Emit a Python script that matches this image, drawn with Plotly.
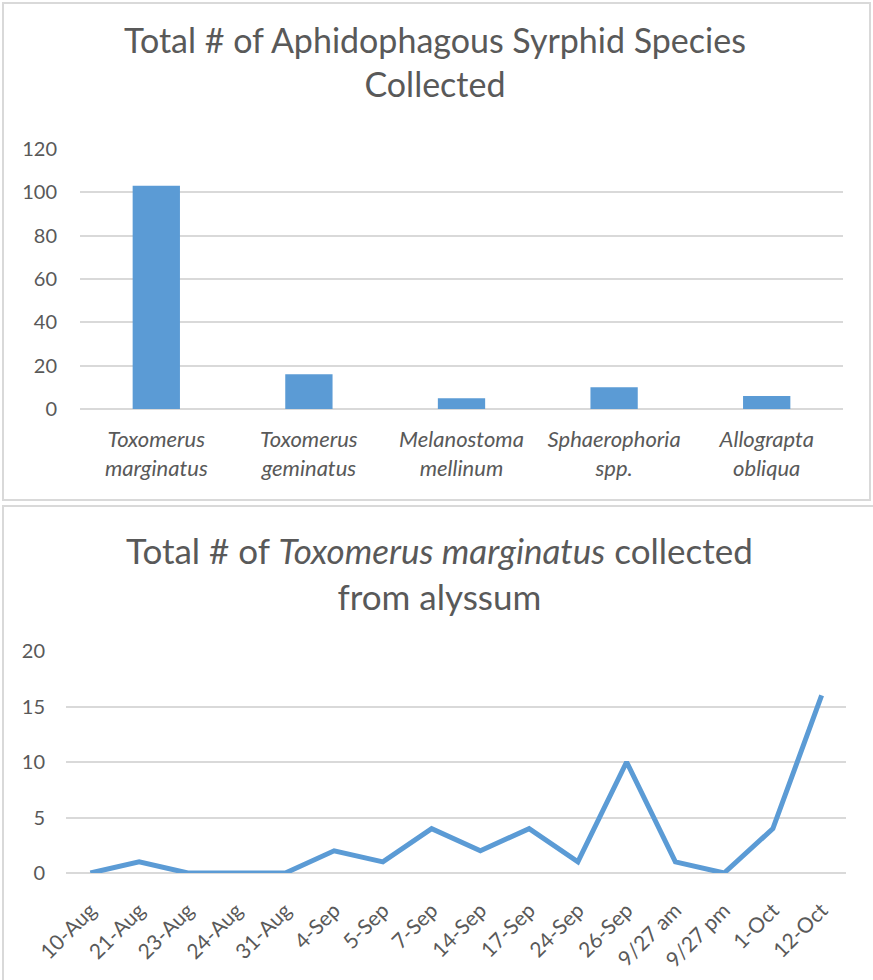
import plotly.graph_objects as go

W, H = 873, 980

# ---- data ----
species = ["Toxomerus<br>marginatus", "Toxomerus<br>geminatus", "Melanostoma<br>mellinum",
           "Sphaerophoria<br>spp.", "Allograpta<br>obliqua"]
species_counts = [103, 16, 5, 10, 6]

dates = ["10-Aug", "21-Aug", "23-Aug", "24-Aug", "31-Aug", "4-Sep", "5-Sep", "7-Sep",
         "14-Sep", "17-Sep", "24-Sep", "26-Sep", "9/27 am", "9/27 pm", "1-Oct", "12-Oct"]
tm_counts = [0, 1, 0, 0, 0, 2, 1, 4, 2, 4, 1, 10, 1, 0, 4, 16]

bar_ticks = [0, 20, 40, 60, 80, 100, 120]
line_ticks = [0, 5, 10, 15, 20]

BLUE = "#5b9bd5"
GRID = "#d9d9d9"
TXT = "#595959"
FONT = "Lato, 'Open Sans', sans-serif"

def px_x(x):
    return x / W

def px_y(y):
    return 1 - y / H

fig = go.Figure()
fig.add_trace(go.Bar(x=list(range(len(species))), y=species_counts, marker_color=BLUE,
                     marker_line_width=0, xaxis="x", yaxis="y", showlegend=False))
fig.add_trace(go.Scatter(x=list(range(len(dates))), y=tm_counts, mode="lines",
                         line=dict(color=BLUE, width=5), xaxis="x2", yaxis="y2",
                         showlegend=False))

fig.update_layout(
    template="none",
    width=W, height=H, margin=dict(l=0, r=0, t=0, b=0, pad=0),
    paper_bgcolor="white", plot_bgcolor="white",
    font=dict(family=FONT, color=TXT, size=20),
    bargap=0.69,
    xaxis=dict(domain=[px_x(80), px_x(843)], range=[-0.5, 4.5], tickmode="array",
               tickvals=list(range(len(species))), ticktext=[f"<i>{s}</i>" for s in species],
               showgrid=False, zeroline=False, showline=False, ticks="",
               tickangle=0, tickfont=dict(size=22, color=TXT), anchor="y",
               ticklabelstandoff=15, automargin=False),
    yaxis=dict(domain=[px_y(409), px_y(149)], range=[0, 120], tickvals=bar_ticks,
               showgrid=True, gridcolor=GRID, gridwidth=1.5, zeroline=True,
               zerolinecolor=GRID, zerolinewidth=1.5, showline=False, ticks="",
               tickfont=dict(size=20, color=TXT), anchor="x", ticklabelstandoff=22,
               automargin=False),
    xaxis2=dict(domain=[px_x(66), px_x(846)], range=[-0.5, 15.5], tickmode="array",
                tickvals=list(range(len(dates))), ticktext=dates,
                showgrid=False, zeroline=False, showline=False, ticks="",
                tickangle=-45, tickfont=dict(size=21, color=TXT), anchor="y2",
                ticklabelstandoff=20, automargin=False),
    yaxis2=dict(domain=[px_y(873), px_y(651)], range=[0, 20], tickvals=line_ticks,
                showgrid=True, gridcolor=GRID, gridwidth=1.5, zeroline=True,
                zerolinecolor=GRID, zerolinewidth=1.5, showline=False, ticks="",
                tickfont=dict(size=20, color=TXT), anchor="x2", ticklabelstandoff=20,
                automargin=False),
)

# panel borders
fig.add_shape(type="rect", xref="paper", yref="paper",
              x0=px_x(3), x1=px_x(870), y0=px_y(500), y1=px_y(3),
              line=dict(color=GRID, width=2), layer="below")
fig.add_shape(type="rect", xref="paper", yref="paper",
              x0=px_x(3), x1=px_x(900), y0=px_y(1010), y1=px_y(506),
              line=dict(color=GRID, width=2), layer="below")

# titles
fig.add_annotation(xref="paper", yref="paper", x=px_x(435), y=px_y(62),
                   text="Total # of Aphidophagous Syrphid Species<br>Collected",
                   showarrow=False, font=dict(size=34, color=TXT, family=FONT),
                   xanchor="center", yanchor="middle", align="center")
fig.add_annotation(xref="paper", yref="paper", x=px_x(439), y=px_y(573),
                   text="Total # of <i>Toxomerus marginatus</i> collected<br>from alyssum",
                   showarrow=False, font=dict(size=35, color=TXT, family=FONT),
                   xanchor="center", yanchor="middle", align="center")

fig.write_html("out.html")
